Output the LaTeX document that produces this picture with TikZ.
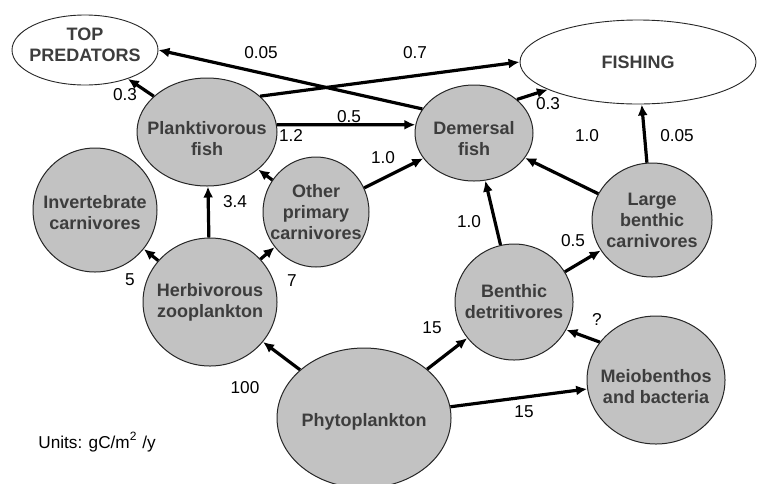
\documentclass[tikz,border=0pt]{standalone}
\usepackage{fontspec}
\setmainfont{Liberation Sans}
\usetikzlibrary{arrows.meta,shapes.geometric}
\definecolor{PoolClr}{rgb}{0.76,0.76,0.76}
\definecolor{PoolTxtClr}{rgb}{0.24,0.24,0.24}

\tikzset{
  pool/.style={ellipse,draw=black!85,line width=.5pt,fill=PoolClr,inner sep=0pt},
  sink/.style={ellipse,draw=black!85,line width=.45pt,fill=white,inner sep=0pt},
  pooltxt/.style={align=center,inner sep=0pt,text=PoolTxtClr,
    font=\fontsize{9}{10.5}\selectfont\bfseries},
  flow/.style={line width=1.6pt,-{Latex[length=5.5pt,width=5pt]}},
  val/.style={inner sep=0pt,font=\fontsize{8.6}{10}\selectfont}
}

\begin{document}
\begin{tikzpicture}[x=.5pt,y=-.5pt]
\useasboundingbox (0,0) rectangle (758,483);

\node[sink,minimum width=73pt,minimum height=35pt,
  label={[pooltxt,yshift=2.5pt]center:TOP\\PREDATORS}] (top) at (85,50) {};
\node[sink,minimum width=118pt,minimum height=42pt,
  label={[pooltxt]center:FISHING}] (fishing) at (638,62) {};

\node[pool,minimum width=70pt,minimum height=54pt,
  label={[pooltxt,yshift=-3.5pt]center:Planktivorous\\fish}] (plank) at (207,132) {};
\node[pool,minimum width=62pt,minimum height=62pt,
  label={[pooltxt,yshift=-1.5pt]center:Invertebrate\\carnivores}] (invcarn) at (95,210) {};
\node[pool,minimum width=53pt,minimum height=55pt,
  label={[pooltxt]center:Other\\primary\\carnivores}] (othcarn) at (316,212) {};
\node[pool,minimum width=59pt,minimum height=48pt,
  label={[pooltxt,yshift=-3pt]center:Demersal\\fish}] (demersal) at (474,133) {};
\node[pool,minimum width=60pt,minimum height=57pt,
  label={[pooltxt]center:Large\\benthic\\carnivores}] (lbcarn) at (652,220) {};
\node[pool,minimum width=67pt,minimum height=64pt,
  label={[pooltxt]center:Herbivorous\\zooplankton}] (herbzoo) at (210,302) {};
\node[pool,minimum width=59pt,minimum height=58pt,
  label={[pooltxt]center:Benthic\\detritivores}] (bendet) at (514,302) {};
\node[pool,minimum width=69pt,minimum height=64pt,
  label={[pooltxt,yshift=-3.5pt]center:Meiobenthos\\and bacteria}] (meio) at (656,380) {};
\node[pool,minimum width=87pt,minimum height=70pt,
  label={[pooltxt,yshift=-2pt]center:Phytoplankton}] (phyto) at (364,418) {};

\draw[flow] (plank) -- (top);
\draw[flow] (demersal.155) -- (top.east);
\draw[flow] (plank.34) -- (fishing.west);
\draw[flow] (plank.6) -- (demersal.172);
\draw[flow] (othcarn) -- (plank);
\draw[flow] (othcarn) -- (demersal);
\draw[flow] (demersal.38) -- (fishing.197);
\draw[flow] (lbcarn) -- (demersal);
\draw[flow] (lbcarn) -- (fishing);
\draw[flow] (bendet) -- (demersal);
\draw[flow] (bendet) -- (lbcarn);
\draw[flow] (meio.146) -- (bendet.-28);
\draw[flow] (phyto) -- (bendet);
\draw[flow] (phyto) -- (meio);
\draw[flow] (phyto) -- (herbzoo);
\draw[flow] (herbzoo) -- (invcarn);
\draw[flow] (herbzoo) -- (plank);
\draw[flow] (herbzoo) -- (othcarn);

\node[val] (vPlankTop) at (125,95) {0.3};
\node[val] (vDemTop) at (261,53) {0.05};
\node[val] (vPlankFish) at (415,53) {0.7};
\node[val] (vPlankDem) at (349,117) {0.5};
\node[val] (vOthPlank) at (291,135) {1.2};
\node[val] (vOthDem) at (383,158) {1.0};
\node[val] (vDemFish) at (548,104) {0.3};
\node[val] (vLbDem) at (587,136) {1.0};
\node[val] (vLbFish) at (677,136) {0.05};
\node[val] (vBenDem) at (469,222) {1.0};
\node[val] (vBenLb) at (573,241) {0.5};
\node[val] (vMeioBen) at (597,319) {?};
\node[val] (vPhyBen) at (432,328) {15};
\node[val] (vPhyMeio) at (524,412) {15};
\node[val] (vPhyHerb) at (245,388) {100};
\node[val] (vHerbInv) at (130,280) {5};
\node[val] (vHerbOth) at (292,281) {7};
\node[val] (vHerbPlank) at (235,202) {3.4};

\node[val,anchor=west] (units) at (38,442) {Units: gC/m\textsuperscript{2} /y};
\end{tikzpicture}
\end{document}
